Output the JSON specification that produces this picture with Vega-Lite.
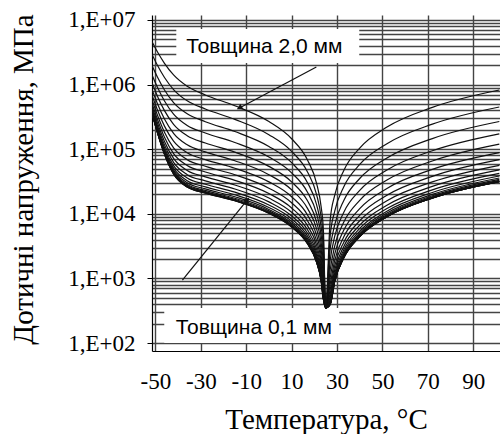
{
"$schema":"https://vega.github.io/schema/vega-lite/v6.json",
"width":348,"height":336,
"autosize":{"type":"none"},
"padding":{"left":152,"top":15,"right":0,"bottom":83},
"background":"white",
"config":{"view":{"stroke":null}},
"datasets":{
"boxes":[{"t1":-40.8,"t2":39.8,"s1":7260000,"s2":2160000},{"t1":-46.1,"t2":31.0,"s1":348,"s2":100}],
"arrows":[{"t1":20.9,"s1":1870000,"t2":-13.0,"s2":435000,"angle":242},{"t1":-38.1,"s1":944,"t2":-9.5,"s2":16400,"angle":39}],
"notes":[{"t":-2.0,"s":3080000,"label":"Товщина 2,0 мм"},{"t":-6.65,"s":138,"label":"Товщина 0,1 мм"}],
"curves":[
{"h":0.1,"temp":-51.5,"stress":360000},{"h":0.1,"temp":-49,"stress":176000},{"h":0.1,"temp":-46,"stress":83600},{"h":0.1,"temp":-42,"stress":41400},{"h":0.1,"temp":-36,"stress":25900},{"h":0.1,"temp":-28,"stress":20900},{"h":0.1,"temp":-15,"stress":15900},{"h":0.1,"temp":0,"stress":10200},{"h":0.1,"temp":10,"stress":6250},{"h":0.1,"temp":17,"stress":3440},{"h":0.1,"temp":21,"stress":1780},{"h":0.1,"temp":23,"stress":922},{"h":0.1,"temp":24,"stress":477},{"h":0.1,"temp":25,"stress":350},{"h":0.1,"temp":27,"stress":396},{"h":0.1,"temp":29,"stress":909},{"h":0.1,"temp":33,"stress":2090},{"h":0.1,"temp":40,"stress":4440},{"h":0.1,"temp":52,"stress":8990},{"h":0.1,"temp":72,"stress":17500},{"h":0.1,"temp":101.5,"stress":31400},
{"h":0.2,"temp":-51.5,"stress":361000},{"h":0.2,"temp":-49,"stress":176500},{"h":0.2,"temp":-46,"stress":83800},{"h":0.2,"temp":-42,"stress":41500},{"h":0.2,"temp":-36,"stress":26000},{"h":0.2,"temp":-28,"stress":21000},{"h":0.2,"temp":-15,"stress":15920},{"h":0.2,"temp":0,"stress":10190},{"h":0.2,"temp":10,"stress":6270},{"h":0.2,"temp":17,"stress":3450},{"h":0.2,"temp":21,"stress":1785},{"h":0.2,"temp":23,"stress":924},{"h":0.2,"temp":24,"stress":478},{"h":0.2,"temp":25,"stress":350},{"h":0.2,"temp":27,"stress":397},{"h":0.2,"temp":29,"stress":910},{"h":0.2,"temp":33,"stress":2092},{"h":0.2,"temp":40,"stress":4445},{"h":0.2,"temp":52,"stress":9000},{"h":0.2,"temp":72,"stress":17520},{"h":0.2,"temp":101.5,"stress":31420},
{"h":0.3,"temp":-51.5,"stress":361500},{"h":0.3,"temp":-49,"stress":177000},{"h":0.3,"temp":-46,"stress":84100},{"h":0.3,"temp":-42,"stress":41800},{"h":0.3,"temp":-36,"stress":26300},{"h":0.3,"temp":-28,"stress":21200},{"h":0.3,"temp":-15,"stress":16050},{"h":0.3,"temp":0,"stress":10270},{"h":0.3,"temp":10,"stress":6320},{"h":0.3,"temp":17,"stress":3475},{"h":0.3,"temp":21,"stress":1798},{"h":0.3,"temp":23,"stress":930},{"h":0.3,"temp":24,"stress":481},{"h":0.3,"temp":25,"stress":350},{"h":0.3,"temp":27,"stress":397},{"h":0.3,"temp":29,"stress":911},{"h":0.3,"temp":33,"stress":2095},{"h":0.3,"temp":40,"stress":4450},{"h":0.3,"temp":52,"stress":9010},{"h":0.3,"temp":72,"stress":17530},{"h":0.3,"temp":101.5,"stress":31450},
{"h":0.4,"temp":-51.5,"stress":363000},{"h":0.4,"temp":-49,"stress":178000},{"h":0.4,"temp":-46,"stress":85100},{"h":0.4,"temp":-42,"stress":42400},{"h":0.4,"temp":-36,"stress":26700},{"h":0.4,"temp":-28,"stress":21500},{"h":0.4,"temp":-15,"stress":16310},{"h":0.4,"temp":0,"stress":10430},{"h":0.4,"temp":10,"stress":6410},{"h":0.4,"temp":17,"stress":3524},{"h":0.4,"temp":21,"stress":1821},{"h":0.4,"temp":23,"stress":942},{"h":0.4,"temp":24,"stress":487},{"h":0.4,"temp":25,"stress":350},{"h":0.4,"temp":27,"stress":398},{"h":0.4,"temp":29,"stress":914},{"h":0.4,"temp":33,"stress":2100},{"h":0.4,"temp":40,"stress":4460},{"h":0.4,"temp":52,"stress":9040},{"h":0.4,"temp":72,"stress":17570},{"h":0.4,"temp":101.5,"stress":31550},
{"h":0.5,"temp":-51.5,"stress":365000},{"h":0.5,"temp":-49,"stress":180000},{"h":0.5,"temp":-46,"stress":86600},{"h":0.5,"temp":-42,"stress":43400},{"h":0.5,"temp":-36,"stress":27400},{"h":0.5,"temp":-28,"stress":22100},{"h":0.5,"temp":-15,"stress":16740},{"h":0.5,"temp":0,"stress":10690},{"h":0.5,"temp":10,"stress":6565},{"h":0.5,"temp":17,"stress":3605},{"h":0.5,"temp":21,"stress":1861},{"h":0.5,"temp":23,"stress":961},{"h":0.5,"temp":24,"stress":496},{"h":0.5,"temp":25,"stress":350},{"h":0.5,"temp":27,"stress":401},{"h":0.5,"temp":29,"stress":920},{"h":0.5,"temp":33,"stress":2117},{"h":0.5,"temp":40,"stress":4497},{"h":0.5,"temp":52,"stress":9100},{"h":0.5,"temp":72,"stress":17700},{"h":0.5,"temp":101.5,"stress":31800},
{"h":0.6,"temp":-51.5,"stress":370000},{"h":0.6,"temp":-49,"stress":184000},{"h":0.6,"temp":-46,"stress":89000},{"h":0.6,"temp":-42,"stress":45100},{"h":0.6,"temp":-36,"stress":28500},{"h":0.6,"temp":-28,"stress":23000},{"h":0.6,"temp":-15,"stress":17390},{"h":0.6,"temp":0,"stress":11100},{"h":0.6,"temp":10,"stress":6805},{"h":0.6,"temp":17,"stress":3729},{"h":0.6,"temp":21,"stress":1921},{"h":0.6,"temp":23,"stress":990},{"h":0.6,"temp":24,"stress":510},{"h":0.6,"temp":25,"stress":350},{"h":0.6,"temp":27,"stress":406},{"h":0.6,"temp":29,"stress":932},{"h":0.6,"temp":33,"stress":2142},{"h":0.6,"temp":40,"stress":4556},{"h":0.6,"temp":52,"stress":9230},{"h":0.6,"temp":72,"stress":17950},{"h":0.6,"temp":101.5,"stress":32200},
{"h":0.7,"temp":-51.5,"stress":377000},{"h":0.7,"temp":-49,"stress":190000},{"h":0.7,"temp":-46,"stress":92800},{"h":0.7,"temp":-42,"stress":47400},{"h":0.7,"temp":-36,"stress":30200},{"h":0.7,"temp":-28,"stress":24300},{"h":0.7,"temp":-15,"stress":18350},{"h":0.7,"temp":0,"stress":11680},{"h":0.7,"temp":10,"stress":7153},{"h":0.7,"temp":17,"stress":3910},{"h":0.7,"temp":21,"stress":2009},{"h":0.7,"temp":23,"stress":1033},{"h":0.7,"temp":24,"stress":530},{"h":0.7,"temp":25,"stress":350},{"h":0.7,"temp":27,"stress":414},{"h":0.7,"temp":29,"stress":952},{"h":0.7,"temp":33,"stress":2188},{"h":0.7,"temp":40,"stress":4656},{"h":0.7,"temp":52,"stress":9434},{"h":0.7,"temp":72,"stress":18350},{"h":0.7,"temp":101.5,"stress":32950},
{"h":0.8,"temp":-51.5,"stress":389000},{"h":0.8,"temp":-49,"stress":198000},{"h":0.8,"temp":-46,"stress":98200},{"h":0.8,"temp":-42,"stress":50900},{"h":0.8,"temp":-36,"stress":32500},{"h":0.8,"temp":-28,"stress":26100},{"h":0.8,"temp":-15,"stress":19720},{"h":0.8,"temp":0,"stress":12520},{"h":0.8,"temp":10,"stress":7645},{"h":0.8,"temp":17,"stress":4165},{"h":0.8,"temp":21,"stress":2133},{"h":0.8,"temp":23,"stress":1092},{"h":0.8,"temp":24,"stress":559},{"h":0.8,"temp":25,"stress":350},{"h":0.8,"temp":27,"stress":428},{"h":0.8,"temp":29,"stress":983},{"h":0.8,"temp":33,"stress":2262},{"h":0.8,"temp":40,"stress":4815},{"h":0.8,"temp":52,"stress":9760},{"h":0.8,"temp":72,"stress":19000},{"h":0.8,"temp":101.5,"stress":34100},
{"h":0.9,"temp":-51.5,"stress":406000},{"h":0.9,"temp":-49,"stress":210000},{"h":0.9,"temp":-46,"stress":105800},{"h":0.9,"temp":-42,"stress":55700},{"h":0.9,"temp":-36,"stress":35800},{"h":0.9,"temp":-28,"stress":28700},{"h":0.9,"temp":-15,"stress":21610},{"h":0.9,"temp":0,"stress":13680},{"h":0.9,"temp":10,"stress":8326},{"h":0.9,"temp":17,"stress":4515},{"h":0.9,"temp":21,"stress":2300},{"h":0.9,"temp":23,"stress":1173},{"h":0.9,"temp":24,"stress":597},{"h":0.9,"temp":25,"stress":350},{"h":0.9,"temp":27,"stress":448},{"h":0.9,"temp":29,"stress":1031},{"h":0.9,"temp":33,"stress":2373},{"h":0.9,"temp":40,"stress":5054},{"h":0.9,"temp":52,"stress":10250},{"h":0.9,"temp":72,"stress":19970},{"h":0.9,"temp":101.5,"stress":35870},
{"h":1.0,"temp":-51.5,"stress":430000},{"h":1.0,"temp":-49,"stress":226000},{"h":1.0,"temp":-46,"stress":116600},{"h":1.0,"temp":-42,"stress":62600},{"h":1.0,"temp":-36,"stress":40400},{"h":1.0,"temp":-28,"stress":32300},{"h":1.0,"temp":-15,"stress":24240},{"h":1.0,"temp":0,"stress":15290},{"h":1.0,"temp":10,"stress":9260},{"h":1.0,"temp":17,"stress":4995},{"h":1.0,"temp":21,"stress":2531},{"h":1.0,"temp":23,"stress":1282},{"h":1.0,"temp":24,"stress":649},{"h":1.0,"temp":25,"stress":350},{"h":1.0,"temp":27,"stress":478},{"h":1.0,"temp":29,"stress":1101},{"h":1.0,"temp":33,"stress":2537},{"h":1.0,"temp":40,"stress":5410},{"h":1.0,"temp":52,"stress":10980},{"h":1.0,"temp":72,"stress":21410},{"h":1.0,"temp":101.5,"stress":38500},
{"h":1.1,"temp":-51.5,"stress":465000},{"h":1.1,"temp":-49,"stress":250000},{"h":1.1,"temp":-46,"stress":131600},{"h":1.1,"temp":-42,"stress":72100},{"h":1.1,"temp":-36,"stress":46800},{"h":1.1,"temp":-28,"stress":37300},{"h":1.1,"temp":-15,"stress":27900},{"h":1.1,"temp":0,"stress":17510},{"h":1.1,"temp":10,"stress":10550},{"h":1.1,"temp":17,"stress":5654},{"h":1.1,"temp":21,"stress":2843},{"h":1.1,"temp":23,"stress":1430},{"h":1.1,"temp":24,"stress":719},{"h":1.1,"temp":25,"stress":350},{"h":1.1,"temp":27,"stress":521},{"h":1.1,"temp":29,"stress":1203},{"h":1.1,"temp":33,"stress":2776},{"h":1.1,"temp":40,"stress":5928},{"h":1.1,"temp":52,"stress":12050},{"h":1.1,"temp":72,"stress":23510},{"h":1.1,"temp":101.5,"stress":42320},
{"h":1.2,"temp":-51.5,"stress":514000},{"h":1.2,"temp":-49,"stress":283000},{"h":1.2,"temp":-46,"stress":152900},{"h":1.2,"temp":-42,"stress":85500},{"h":1.2,"temp":-36,"stress":55900},{"h":1.2,"temp":-28,"stress":44300},{"h":1.2,"temp":-15,"stress":32990},{"h":1.2,"temp":0,"stress":20590},{"h":1.2,"temp":10,"stress":12320},{"h":1.2,"temp":17,"stress":6556},{"h":1.2,"temp":21,"stress":3269},{"h":1.2,"temp":23,"stress":1631},{"h":1.2,"temp":24,"stress":813},{"h":1.2,"temp":25,"stress":350},{"h":1.2,"temp":27,"stress":585},{"h":1.2,"temp":29,"stress":1352},{"h":1.2,"temp":33,"stress":3126},{"h":1.2,"temp":40,"stress":6686},{"h":1.2,"temp":52,"stress":13600},{"h":1.2,"temp":72,"stress":26600},{"h":1.2,"temp":101.5,"stress":47900},
{"h":1.3,"temp":-51.5,"stress":585000},{"h":1.3,"temp":-49,"stress":330000},{"h":1.3,"temp":-46,"stress":183200},{"h":1.3,"temp":-42,"stress":104900},{"h":1.3,"temp":-36,"stress":68900},{"h":1.3,"temp":-28,"stress":54400},{"h":1.3,"temp":-15,"stress":40250},{"h":1.3,"temp":0,"stress":24940},{"h":1.3,"temp":10,"stress":14820},{"h":1.3,"temp":17,"stress":7810},{"h":1.3,"temp":21,"stress":3856},{"h":1.3,"temp":23,"stress":1903},{"h":1.3,"temp":24,"stress":939},{"h":1.3,"temp":25,"stress":350},{"h":1.3,"temp":27,"stress":678},{"h":1.3,"temp":29,"stress":1571},{"h":1.3,"temp":33,"stress":3640},{"h":1.3,"temp":40,"stress":7800},{"h":1.3,"temp":52,"stress":15910},{"h":1.3,"temp":72,"stress":31150},{"h":1.3,"temp":101.5,"stress":56250},
{"h":1.4,"temp":-51.5,"stress":686000},{"h":1.4,"temp":-49,"stress":397000},{"h":1.4,"temp":-46,"stress":227500},{"h":1.4,"temp":-42,"stress":133300},{"h":1.4,"temp":-36,"stress":88000},{"h":1.4,"temp":-28,"stress":69000},{"h":1.4,"temp":-15,"stress":50760},{"h":1.4,"temp":0,"stress":31190},{"h":1.4,"temp":10,"stress":18380},{"h":1.4,"temp":17,"stress":9581},{"h":1.4,"temp":21,"stress":4674},{"h":1.4,"temp":23,"stress":2279},{"h":1.4,"temp":24,"stress":1112},{"h":1.4,"temp":25,"stress":350},{"h":1.4,"temp":27,"stress":816},{"h":1.4,"temp":29,"stress":1897},{"h":1.4,"temp":33,"stress":4410},{"h":1.4,"temp":40,"stress":9474},{"h":1.4,"temp":52,"stress":19370},{"h":1.4,"temp":72,"stress":38000},{"h":1.4,"temp":101.5,"stress":68770},
{"h":1.5,"temp":-51.5,"stress":836000},{"h":1.5,"temp":-49,"stress":498000},{"h":1.5,"temp":-46,"stress":293500},{"h":1.5,"temp":-42,"stress":176000},{"h":1.5,"temp":-36,"stress":116800},{"h":1.5,"temp":-28,"stress":90900},{"h":1.5,"temp":-15,"stress":66300},{"h":1.5,"temp":0,"stress":40370},{"h":1.5,"temp":10,"stress":23540},{"h":1.5,"temp":17,"stress":12120},{"h":1.5,"temp":21,"stress":5834},{"h":1.5,"temp":23,"stress":2808},{"h":1.5,"temp":24,"stress":1351},{"h":1.5,"temp":25,"stress":350},{"h":1.5,"temp":27,"stress":1027},{"h":1.5,"temp":29,"stress":2396},{"h":1.5,"temp":33,"stress":5591},{"h":1.5,"temp":40,"stress":12050},{"h":1.5,"temp":52,"stress":24730},{"h":1.5,"temp":72,"stress":48680},{"h":1.5,"temp":101.5,"stress":88290},
{"h":1.6,"temp":-51.5,"stress":1061000},{"h":1.6,"temp":-49,"stress":651000},{"h":1.6,"temp":-46,"stress":395000},{"h":1.6,"temp":-42,"stress":242400},{"h":1.6,"temp":-36,"stress":161500},{"h":1.6,"temp":-28,"stress":124600},{"h":1.6,"temp":-15,"stress":90000},{"h":1.6,"temp":0,"stress":54240},{"h":1.6,"temp":10,"stress":31260},{"h":1.6,"temp":17,"stress":15870},{"h":1.6,"temp":21,"stress":7518},{"h":1.6,"temp":23,"stress":3562},{"h":1.6,"temp":24,"stress":1687},{"h":1.6,"temp":25,"stress":350},{"h":1.6,"temp":27,"stress":1360},{"h":1.6,"temp":29,"stress":3188},{"h":1.6,"temp":33,"stress":7469},{"h":1.6,"temp":40,"stress":16170},{"h":1.6,"temp":52,"stress":33310},{"h":1.6,"temp":72,"stress":65800},{"h":1.6,"temp":101.5,"stress":119700},
{"h":1.7,"temp":-51.5,"stress":1410000},{"h":1.7,"temp":-49,"stress":891000},{"h":1.7,"temp":-46,"stress":557000},{"h":1.7,"temp":-42,"stress":348800},{"h":1.7,"temp":-36,"stress":233100},{"h":1.7,"temp":-28,"stress":178200},{"h":1.7,"temp":-15,"stress":127200},{"h":1.7,"temp":0,"stress":75740},{"h":1.7,"temp":10,"stress":43110},{"h":1.7,"temp":17,"stress":21540},{"h":1.7,"temp":21,"stress":10020},{"h":1.7,"temp":23,"stress":4667},{"h":1.7,"temp":24,"stress":2171},{"h":1.7,"temp":25,"stress":350},{"h":1.7,"temp":27,"stress":1909},{"h":1.7,"temp":29,"stress":4498},{"h":1.7,"temp":33,"stress":10600},{"h":1.7,"temp":40,"stress":23060},{"h":1.7,"temp":52,"stress":47700},{"h":1.7,"temp":72,"stress":94650},{"h":1.7,"temp":101.5,"stress":172900},
{"h":1.8,"temp":-51.5,"stress":1975000},{"h":1.8,"temp":-49,"stress":1284000},{"h":1.8,"temp":-46,"stress":824000},{"h":1.8,"temp":-42,"stress":527000},{"h":1.8,"temp":-36,"stress":353000},{"h":1.8,"temp":-28,"stress":266600},{"h":1.8,"temp":-15,"stress":187800},{"h":1.8,"temp":0,"stress":110300},{"h":1.8,"temp":10,"stress":61830},{"h":1.8,"temp":17,"stress":30340},{"h":1.8,"temp":21,"stress":13850},{"h":1.8,"temp":23,"stress":6318},{"h":1.8,"temp":24,"stress":2881},{"h":1.8,"temp":25,"stress":350},{"h":1.8,"temp":27,"stress":2861},{"h":1.8,"temp":29,"stress":6785},{"h":1.8,"temp":33,"stress":16090},{"h":1.8,"temp":40,"stress":35210},{"h":1.8,"temp":52,"stress":73220},{"h":1.8,"temp":72,"stress":146100},{"h":1.8,"temp":101.5,"stress":268100},
{"h":1.9,"temp":-51.5,"stress":2930000},{"h":1.9,"temp":-49,"stress":1956000},{"h":1.9,"temp":-46,"stress":1288000},{"h":1.9,"temp":-42,"stress":839000},{"h":1.9,"temp":-36,"stress":561000},{"h":1.9,"temp":-28,"stress":419000},{"h":1.9,"temp":-15,"stress":290000},{"h":1.9,"temp":0,"stress":167900},{"h":1.9,"temp":10,"stress":92590},{"h":1.9,"temp":17,"stress":44540},{"h":1.9,"temp":21,"stress":19870},{"h":1.9,"temp":23,"stress":8866},{"h":1.9,"temp":24,"stress":3956},{"h":1.9,"temp":25,"stress":350},{"h":1.9,"temp":27,"stress":4610},{"h":1.9,"temp":29,"stress":11020},{"h":1.9,"temp":33,"stress":26340},{"h":1.9,"temp":40,"stress":58010},{"h":1.9,"temp":52,"stress":121500},{"h":1.9,"temp":72,"stress":243900},{"h":1.9,"temp":101.5,"stress":450000},
{"h":2.0,"temp":-51.5,"stress":4620000},{"h":2.0,"temp":-49,"stress":3167000},{"h":2.0,"temp":-46,"stress":2134000},{"h":2.0,"temp":-42,"stress":1412000},{"h":2.0,"temp":-36,"stress":943000},{"h":2.0,"temp":-28,"stress":692000},{"h":2.0,"temp":-15,"stress":470300},{"h":2.0,"temp":0,"stress":267600},{"h":2.0,"temp":10,"stress":145000},{"h":2.0,"temp":17,"stress":68170},{"h":2.0,"temp":21,"stress":29670},{"h":2.0,"temp":23,"stress":12920},{"h":2.0,"temp":24,"stress":5622},{"h":2.0,"temp":25,"stress":350},{"h":2.0,"temp":27,"stress":8062},{"h":2.0,"temp":29,"stress":19450},{"h":2.0,"temp":33,"stress":46900},{"h":2.0,"temp":40,"stress":104200},{"h":2.0,"temp":52,"stress":219800},{"h":2.0,"temp":72,"stress":444300},{"h":2.0,"temp":101.5,"stress":825000}
]},
"layer":[
{"data":{"name":"boxes"},"mark":{"type":"rect","fill":"white","stroke":null},
 "encoding":{
  "x":{"field":"t1","type":"quantitative","scale":{"domain":[-51.5,101.8],"nice":false,"zero":false},
   "axis":{"title":"Температура, °C","values":[-50,-45,-40,-35,-30,-25,-20,-15,-10,-5,0,5,10,15,20,25,30,35,40,45,50,55,60,65,70,75,80,85,90,95,100],
    "labelExpr":"(datum.value + 50) % 20 == 0 ? '' + datum.value : ''","labelFont":"Liberation Serif","labelFontSize":23,"labelColor":"black","labelPadding":19,"labelFlush":false,"labelOverlap":false,"labelBound":false,
    "ticks":false,"tickSize":0,"domainColor":"black","domainWidth":1.2,"grid":true,"gridColor":"#444","gridWidth":1.4,"gridOpacity":1,
    "titleFont":"Liberation Serif","titleFontSize":29,"titleFontWeight":"normal","titleColor":"black","titleX":174,"titleY":77,"titleBaseline":"alphabetic","titleAlign":"center"}},
  "x2":{"field":"t2"},
  "y":{"field":"s1","type":"quantitative","scale":{"type":"log","domain":[75.2,11950000],"nice":false},
   "axis":{"title":"Дотичні напруження,  МПа","values":[100,200,300,400,500,600,700,800,900,1000,2000,3000,4000,5000,6000,7000,8000,9000,10000,20000,30000,40000,50000,60000,70000,80000,90000,100000,200000,300000,400000,500000,600000,700000,800000,900000,1000000,2000000,3000000,4000000,5000000,6000000,7000000,8000000,9000000,10000000],
    "labelExpr":"abs(log(datum.value)/LN10 - round(log(datum.value)/LN10)) < 0.001 ? '1,E+0' + round(log(datum.value)/LN10) : ''",
    "labelFont":"Liberation Serif","labelFontSize":23,"labelColor":"black","labelPadding":12,"labelOverlap":false,"labelBound":false,"labelFlush":false,
    "tickSize":5,"tickColor":"black","tickOpacity":{"condition":{"test":"abs(log(datum.value)/LN10 - round(log(datum.value)/LN10)) < 0.001","value":1},"value":0},
    "domainColor":"black","domainWidth":1.2,"grid":true,"gridColor":"#444","gridWidth":1.4,"gridOpacity":1,
    "titleFont":"Liberation Serif","titleFontSize":29,"titleFontWeight":"normal","titleColor":"black","titleAngle":270,"titleX":-120,"titleY":164,"titleBaseline":"alphabetic","titleAlign":"center"}},
  "y2":{"field":"s2"}}},
{"data":{"name":"curves"},"mark":{"type":"line","interpolate":"monotone","color":"#111","strokeWidth":1.2,"clip":true},
 "encoding":{"x":{"field":"temp","type":"quantitative"},"y":{"field":"stress","type":"quantitative"},"detail":{"field":"h","type":"nominal"}}},
{"data":{"name":"arrows"},"mark":{"type":"rule","color":"#111","strokeWidth":1.2},
 "encoding":{"x":{"field":"t1","type":"quantitative"},"x2":{"field":"t2"},"y":{"field":"s1","type":"quantitative"},"y2":{"field":"s2"}}},
{"data":{"name":"arrows"},"mark":{"type":"point","shape":"triangle-up","filled":true,"color":"#111","size":45,"opacity":1},
 "encoding":{"x":{"field":"t2","type":"quantitative"},"y":{"field":"s2","type":"quantitative"},"angle":{"field":"angle","type":"quantitative","scale":null}}},
{"data":{"name":"notes"},"mark":{"type":"text","font":"Liberation Sans","fontSize":21,"baseline":"alphabetic","align":"center","color":"black"},
 "encoding":{"x":{"field":"t","type":"quantitative"},"y":{"field":"s","type":"quantitative"},"text":{"field":"label"}}}
]
}
